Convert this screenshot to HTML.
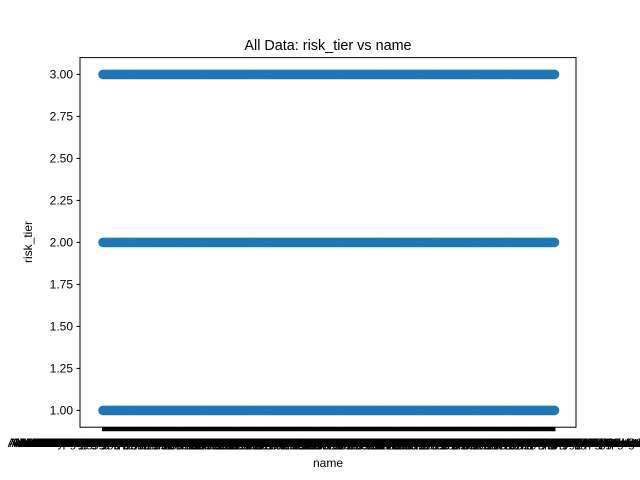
<!DOCTYPE html>
<html><head><meta charset="utf-8"><style>
body{margin:0;background:#fff}
svg{display:block;font-family:"Liberation Sans","DejaVu Sans",sans-serif}
</style></head><body>
<svg id="chart" width="640" height="480" viewBox="0 0 640 480" xmlns="http://www.w3.org/2000/svg">
<rect x="0" y="0" width="640" height="480" fill="#fff"/>
<text x="328" y="50" text-anchor="middle" font-size="14.4">All Data: risk_tier vs name</text>
<g id="marks"></g>
<g id="yaxis"></g>
<g id="xaxis"></g>
<rect x="80" y="57.6" width="496" height="369.6" fill="none" stroke="#000" stroke-width="1"/>
<text x="328" y="467" text-anchor="middle" font-size="12">name</text>
<text transform="translate(32,242) rotate(-90)" text-anchor="middle" font-size="12">risk_tier</text>
</svg>
<script>
const firstNames = ["Abbott","Baker","Carter","Dalton","Ellis","Foster","Garcia","Harper","Irving","Jensen","Keller","Lambert","Morgan","Nolan","Owens","Parker","Quinn","Reed","Sutton","Turner"];
const lastNames = ["Holdings Group International","Logistics International Co","Finance Partners Worldwide","Systems Corporation Limited","Capital Ventures Management","Medical Supply Distribution","Foods Company Incorporated","Energy Services Consolidated","Textile Mills Manufacturing","Motor Works Engineering Ltd","Retail Stores Operations Co","Biotech Laboratories Research","Freight Lines Transportation","Pharmaceuticals Incorporated","Mining Resources Exploration"];
const names = [];
firstNames.forEach(f=>lastNames.forEach(l=>names.push(f+" "+l)));
const tierLevels = [1,2,3];
const yTicks = [1.00,1.25,1.50,1.75,2.00,2.25,2.50,2.75,3.00];
const yTickLabels = ["1.00","1.25","1.50","1.75","2.00","2.25","2.50","2.75","3.00"];

const NS="http://www.w3.org/2000/svg";
const L=80,R=576,T=57.6,B=427.2;
const n=names.length;
const X0=103,X1=554.5;
function xPos(i){return X0+i*(X1-X0)/(n-1);}
function yPos(v){return B-(v-0.9)/(3.1-0.9)*(B-T);}

const marks=document.getElementById('marks');
for(let i=0;i<n;i++){
  tierLevels.forEach(v=>{
    const c=document.createElementNS(NS,'circle');
    c.setAttribute('cx',xPos(i));c.setAttribute('cy',yPos(v));
    c.setAttribute('r',4.8);c.setAttribute('fill','#1f77b4');
    
    
    marks.appendChild(c);
  });
}
const ya=document.getElementById('yaxis');
yTicks.forEach((v,k)=>{
  const y=yPos(v);
  const t=document.createElementNS(NS,'line');
  t.setAttribute('x1',L-3.5);t.setAttribute('x2',L);t.setAttribute('y1',y);t.setAttribute('y2',y);
  t.setAttribute('stroke','#000');
  
  
  ya.appendChild(t);
  const lb=document.createElementNS(NS,'text');
  lb.setAttribute('x',L-7);lb.setAttribute('y',y+4);lb.setAttribute('text-anchor','end');lb.setAttribute('font-size','12');
  lb.textContent=yTickLabels[k];
  
  
  ya.appendChild(lb);
});
const xa=document.getElementById('xaxis');
for(let i=0;i<n;i++){
  const x=xPos(i);
  const t=document.createElementNS(NS,'line');
  t.setAttribute('x1',x);t.setAttribute('x2',x);t.setAttribute('y1',B);t.setAttribute('y2',B+4);
  t.setAttribute('stroke','#000');t.setAttribute('stroke-width','2');
  
  
  xa.appendChild(t);
  const lb=document.createElementNS(NS,'text');
  lb.setAttribute('x',x);lb.setAttribute('y',B+20);lb.setAttribute('text-anchor','middle');lb.setAttribute('font-size','12');
  lb.textContent=names[i];
  
  
  xa.appendChild(lb);
}
</script>
</body></html>
